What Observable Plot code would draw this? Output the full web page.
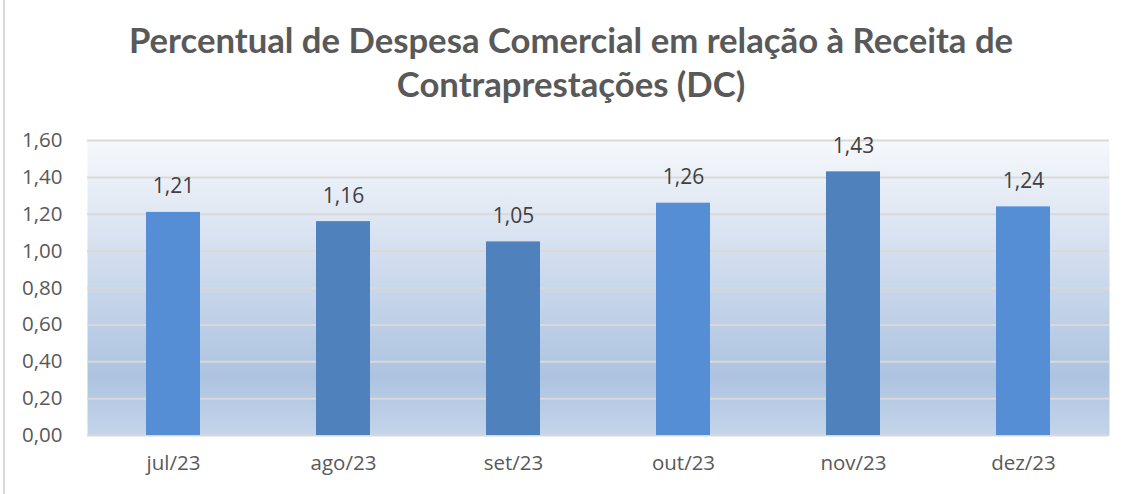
<!DOCTYPE html>
<html>
<head>
<meta charset="utf-8">
<script src="https://cdn.jsdelivr.net/npm/d3@7"></script>
<script src="https://cdn.jsdelivr.net/npm/@observablehq/plot@0.6"></script>
<style>
  html, body { margin: 0; padding: 0; background: #ffffff; }
  #wrap { position: relative; width: 1130px; height: 494px; overflow: hidden; font-family: "Open Sans", sans-serif; }
  #border { position: absolute; left: 3px; top: 0; width: 2px; height: 494px; background: #d9d9d9; }
  #title { position: absolute; left: 0; top: 18px; width: 1142px; text-align: center; font-family: Lato, sans-serif; font-weight: 700; font-size: 34.7px; line-height: 44px; color: #595959; }
  #chart { position: absolute; left: 0; top: 120px; }
</style>
</head>
<body>
<div id="wrap">
  <div id="border"></div>
  <div id="title">Percentual de Despesa Comercial em relação à Receita de<br>Contraprestações (DC)</div>
  <div id="chart"></div>
</div>
<script>
const months = ["jul/23", "ago/23", "set/23", "out/23", "nov/23", "dez/23"];
const values = [1.21, 1.16, 1.05, 1.26, 1.43, 1.24];
const barColors = ["#558ED5", "#4F81BD", "#4F81BD", "#558ED5", "#4F81BD", "#558ED5"];
const yTicks = [0, 0.2, 0.4, 0.6, 0.8, 1.0, 1.2, 1.4, 1.6];

const data = months.map((m, i) => ({month: m, value: values[i], color: barColors[i]}));
const fmt = v => d3.format(".2f")(v).replace(".", ",");

const gradientDefs = () => {
  const defs = d3.create("svg:defs");
  const g = defs.append("linearGradient").attr("id", "bgGrad")
    .attr("x1", 0).attr("y1", 0).attr("x2", 0).attr("y2", 1);
  g.append("stop").attr("offset", "0%").attr("stop-color", "#f6f8fc");
  g.append("stop").attr("offset", "80%").attr("stop-color", "#adc3e0");
  g.append("stop").attr("offset", "100%").attr("stop-color", "#c4d5ea");
  return defs.node();
};

const chart = Plot.plot({
  width: 1130,
  height: 374,
  marginLeft: 87,
  marginRight: 21,
  marginTop: 20,
  marginBottom: 59,
  style: {fontFamily: "'Open Sans', sans-serif", background: "transparent"},
  x: {domain: months, paddingInner: 0.68, paddingOuter: 0.34, label: null},
  y: {domain: [0, 1.6], label: null},
  marks: [
    gradientDefs,
    Plot.frame({fill: "url(#bgGrad)", stroke: null}),
    Plot.ruleY(yTicks, {stroke: "#d9d9d9", strokeWidth: 2}),
    Plot.barY(data, {x: "month", y: "value", fill: "color"}),
    Plot.text(data, {x: "month", y: "value", text: d => fmt(d.value), dy: -19, lineAnchor: "bottom", fontSize: 21, fill: "#404040"}),
    Plot.axisY({ticks: yTicks, tickFormat: fmt, tickSize: 0, tickPadding: 25, fontSize: 20.5, fill: "#595959", label: null}),
    Plot.axisX({tickSize: 0, tickPadding: 20, fontSize: 20.5, fill: "#595959", label: null})
  ]
});
document.getElementById("chart").appendChild(chart);
</script>
</body>
</html>
